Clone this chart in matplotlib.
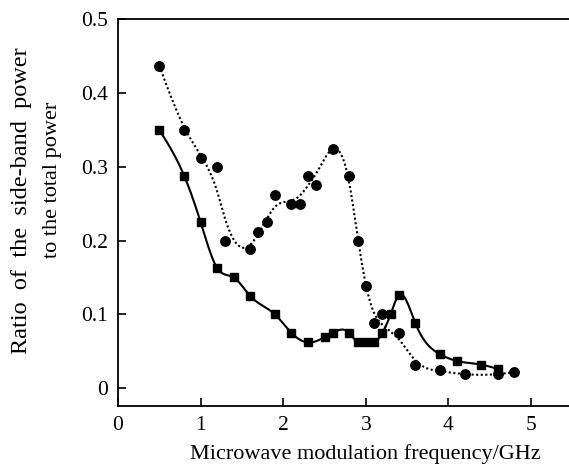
import numpy as np
import matplotlib
matplotlib.use("Agg")
import matplotlib.pyplot as plt

plt.rcParams["font.family"] = ["Liberation Serif", "DejaVu Serif"]

# Side-band ratio, circles (dotted trend) and squares (solid trend)
freq_circle = [0.5, 0.8, 1.0, 1.2, 1.3, 1.6, 1.7, 1.8, 1.9, 2.1, 2.2, 2.3, 2.4,
               2.6, 2.8, 2.9, 3.0, 3.1, 3.2, 3.4, 3.6, 3.9, 4.2, 4.6, 4.8]
ratio_circle = [0.437, 0.350, 0.312, 0.300, 0.200, 0.188, 0.212, 0.225, 0.262,
                0.250, 0.250, 0.287, 0.275, 0.324, 0.287, 0.200, 0.138, 0.088,
                0.100, 0.075, 0.031, 0.025, 0.019, 0.019, 0.022]

freq_square = [0.5, 0.8, 1.0, 1.2, 1.4, 1.6, 1.9, 2.1, 2.3, 2.5, 2.6, 2.8, 2.9,
               3.0, 3.1, 3.2, 3.3, 3.4, 3.6, 3.9, 4.1, 4.4, 4.6]
ratio_square = [0.350, 0.288, 0.225, 0.163, 0.150, 0.125, 0.100, 0.075, 0.062,
                0.069, 0.075, 0.075, 0.062, 0.062, 0.062, 0.075, 0.100, 0.126,
                0.088, 0.046, 0.037, 0.032, 0.026]

x_ticks = [0, 1, 2, 3, 4, 5]
y_ticks = [0, 0.1, 0.2, 0.3, 0.4, 0.5]
y_tick_labels = ["0", "0.1", "0.2", "0.3", "0.4", "0.5"]


def smoothing_spline(x, y, lam, weights=None, n=700):
    """Weighted penalised (cubic smoothing) spline on a fine grid."""
    x = np.asarray(x, float)
    y = np.asarray(y, float)
    w = np.ones_like(x) if weights is None else np.asarray(weights, float)
    g = np.linspace(x.min(), x.max(), n)
    h = g[1] - g[0]
    idx = np.clip(np.searchsorted(g, x) - 1, 0, n - 2)
    t = (x - g[idx]) / h
    A = np.zeros((len(x), n))
    A[np.arange(len(x)), idx] = 1 - t
    A[np.arange(len(x)), idx + 1] = t
    D = np.diff(np.eye(n), 2, axis=0)
    M = A.T @ (w[:, None] * A) + lam * (D.T @ D) / h**3
    f = np.linalg.solve(M, A.T @ (w * y))
    return g, f


fig = plt.figure(figsize=(5.69, 4.65), dpi=100)
ax = fig.add_axes([118 / 569, 59 / 465, 1 - 118 / 569, 387 / 465])

# trend through the circles: follow the sharp peak and edge more tightly
fx = np.asarray(freq_circle)
fit_w = np.where((fx >= 2.55) & (fx <= 3.05), 6.0, 1.0)
fit_w[0] = 4.0
gx, gy = smoothing_spline(freq_circle, ratio_circle, 8e-4, fit_w)
ax.plot(gx, gy, color="black", lw=1.5, linestyle=(0, (1, 1.2)))
ax.plot(freq_circle, ratio_circle, "o", color="black", ms=6.8, mec="black")

sx, sy = smoothing_spline(freq_square, ratio_square, 1e-8)
ax.plot(sx, sy, color="black", lw=1.5)
ax.plot(freq_square, ratio_square, "s", color="black", ms=6.0, mec="black")

ax.set_xlim(0, 5.46)
ax.set_ylim(-0.024, 0.5)
ax.set_xticks(x_ticks)
ax.set_yticks(y_ticks)
ax.set_yticklabels(y_tick_labels)
ax.tick_params(direction="in", length=6, width=1.2, labelsize=15.5, pad=7,
               colors="black")
ax.spines["right"].set_visible(False)
for s in ("left", "bottom", "top"):
    ax.spines[s].set_linewidth(1.3)

fig.text(365 / 569, 6 / 465, "Microwave modulation frequency/GHz",
         ha="center", va="baseline", fontsize=16)
fig.text(22 / 569, 1 - 201 / 465, "Ratio  of  the  side-band  power",
         ha="center", va="center", rotation=90, fontsize=17.5)
fig.text(53 / 569, 1 - 180 / 465, "to the total power",
         ha="center", va="center", rotation=90, fontsize=16)

fig.savefig("out.png", dpi=100)
